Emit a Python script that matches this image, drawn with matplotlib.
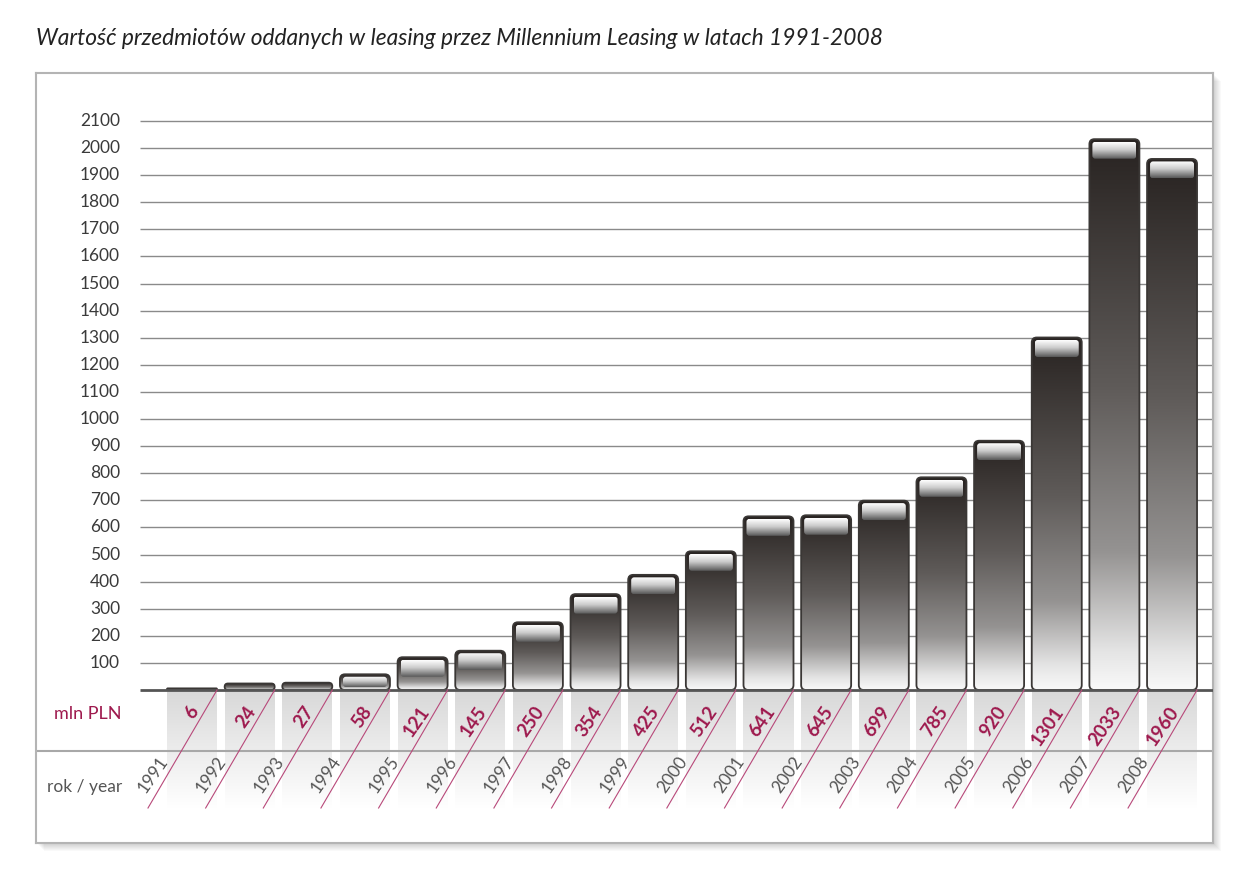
import matplotlib.pyplot as plt
import numpy as np
from matplotlib.patches import FancyBboxPatch, Rectangle
from matplotlib.colors import LinearSegmentedColormap

plt.rcParams['font.family'] = ['Lato', 'DejaVu Sans']

# data
years = ['1991', '1992', '1993', '1994', '1995', '1996', '1997', '1998', '1999',
         '2000', '2001', '2002', '2003', '2004', '2005', '2006', '2007', '2008']
values = [6, 24, 27, 58, 121, 145, 250, 354, 425, 512, 641, 645, 699, 785, 920,
          1301, 2033, 1960]
yticks = [100, 200, 300, 400, 500, 600, 700, 800, 900, 1000, 1100, 1200, 1300,
          1400, 1500, 1600, 1700, 1800, 1900, 2000, 2100]
title = 'Wartość przedmiotów oddanych w leasing przez Millennium Leasing w latach 1991-2008'

crimson = '#9e1a4e'

# pixel scale of the axes (px per data unit)
PX_X = 57.65
PX_Y = 0.27095
ASPECT = PX_X / PX_Y

fig = plt.figure(figsize=(12.4, 8.86), dpi=100)
W, H = 1240, 886
ax_rect = [36 / W, 1 - 843 / H, (1213 - 36) / W, (843 - 73) / H]

# shadow of the frame
for k in range(1, 9):
    fig.patches.append(Rectangle((ax_rect[0] + k / W, ax_rect[1] - k / H), ax_rect[2], ax_rect[3],
                                 transform=fig.transFigure, facecolor='black',
                                 alpha=0.025, edgecolor='none', zorder=0))

ax = fig.add_axes(ax_rect, zorder=1)
ax.set_facecolor('white')
for s in ax.spines.values():
    s.set_color('#b4b4b4')
    s.set_linewidth(1.5)
ax.set_xticks([])
ax.set_yticks([])

xmin, xmax = (36 - 192) / PX_X, (1213 - 192) / PX_X
ymin, ymax = (690 - 843) / PX_Y, (690 - 73) / PX_Y

bar_cmap = LinearSegmentedColormap.from_list('bar', [
    (0.0, '#f9f9f9'), (0.07, '#e4e4e4'), (0.25, '#959392'),
    (0.55, '#5f5b59'), (1.0, '#282321')])
cap_cmap = LinearSegmentedColormap.from_list('cap', [
    (0.0, '#555555'), (0.15, '#787878'), (0.55, '#cccccc'), (1.0, '#ffffff')])
col_cmap = LinearSegmentedColormap.from_list('col', [
    (0.0, '#ffffff'), (0.5, '#ececec'), (1.0, '#d8d8d8')])
grad = np.linspace(0, 1, 256).reshape(-1, 1)

col_bottom = -(808 - 690) / PX_Y
sep_y = -(751 - 690) / PX_Y
grid_x0 = (140 - 192) / PX_X

# grid lines
ax.hlines(yticks, grid_x0, xmax, color='#8a8a8a', lw=1.0, zorder=1)
for t in yticks:
    ax.text((120 - 192) / PX_X, t, str(t), ha='right', va='center',
            fontsize=12.5, color='#3a3a3a')

bw = 50 / PX_X
x = np.arange(len(years))
for i, (yr, v) in enumerate(zip(years, values)):
    x0 = x[i] - bw / 2
    x1 = x[i] + bw / 2

    # grey column below the baseline
    ax.imshow(grad, extent=(x0, x1, col_bottom, 0), cmap=col_cmap, aspect='auto',
              origin='lower', zorder=1, interpolation='bicubic')

    # bar body
    h_px = v * PX_Y
    r = min(5 / PX_X, v / (2 * ASPECT))
    body = FancyBboxPatch((x0, 0), bw, v, boxstyle=f'round,pad=0,rounding_size={r}',
                          mutation_aspect=ASPECT, facecolor='none',
                          edgecolor='#3a3735', lw=1.3, zorder=4)
    ax.add_patch(body)
    im = ax.imshow(grad, extent=(x0, x1, 0, v), cmap=bar_cmap, aspect='auto',
                   origin='lower', zorder=3, interpolation='bicubic')
    im.set_clip_path(body)

    # glossy cap on top
    if h_px > 8:
        cap_px = min(17, h_px * 0.65)
        cy1 = v - 2.5 / PX_Y
        cy0 = cy1 - cap_px / PX_Y
        cx0 = x0 + 3 / PX_X
        cw = bw - 6 / PX_X
        rc = min(3 / PX_X, (cy1 - cy0) / (2 * ASPECT))
        cap = FancyBboxPatch((cx0, cy0), cw, cy1 - cy0,
                             boxstyle=f'round,pad=0,rounding_size={rc}',
                             mutation_aspect=ASPECT, facecolor='none',
                             edgecolor='none', zorder=5)
        ax.add_patch(cap)
        cim = ax.imshow(grad, extent=(cx0, cx0 + cw, cy0, cy1), cmap=cap_cmap,
                        aspect='auto', origin='lower', zorder=5, interpolation='bicubic')
        cim.set_clip_path(cap)

    # diagonal line
    ax.plot([x1, x1 - 69 / PX_X], [0, col_bottom], color='#b8497a', lw=0.8, zorder=6)

    # value and year labels
    ax.text(x[i] + 3 / PX_X, -18 / PX_Y, str(v), rotation=55, rotation_mode='anchor',
            ha='right', va='center', fontsize=13.5, fontweight='bold', color=crimson, zorder=7)
    ax.text(x0 - 2 / PX_X, -68 / PX_Y, yr, rotation=55, rotation_mode='anchor',
            ha='right', va='center', fontsize=12.5, color='#555555', zorder=7)

# baseline and separator
ax.hlines(0, grid_x0, xmax, color='#555555', lw=2.0, zorder=5)
ax.hlines(sep_y, xmin, xmax, color='#a8a8a8', lw=1.5, zorder=2)

ax.text((122 - 192) / PX_X, -24 / PX_Y, 'mln PLN', ha='right', va='center',
        fontsize=13, color=crimson)
ax.text((122 - 192) / PX_X, -97 / PX_Y, 'rok / year', ha='right', va='center',
        fontsize=12.5, color='#555555')

ax.set_xlim(xmin, xmax)
ax.set_ylim(ymin, ymax)

fig.text(36 / W, 1 - 45 / H, title, ha='left', va='baseline', fontsize=16.4,
         style='italic', color='#222222')

fig.savefig('out.png', dpi=100)
